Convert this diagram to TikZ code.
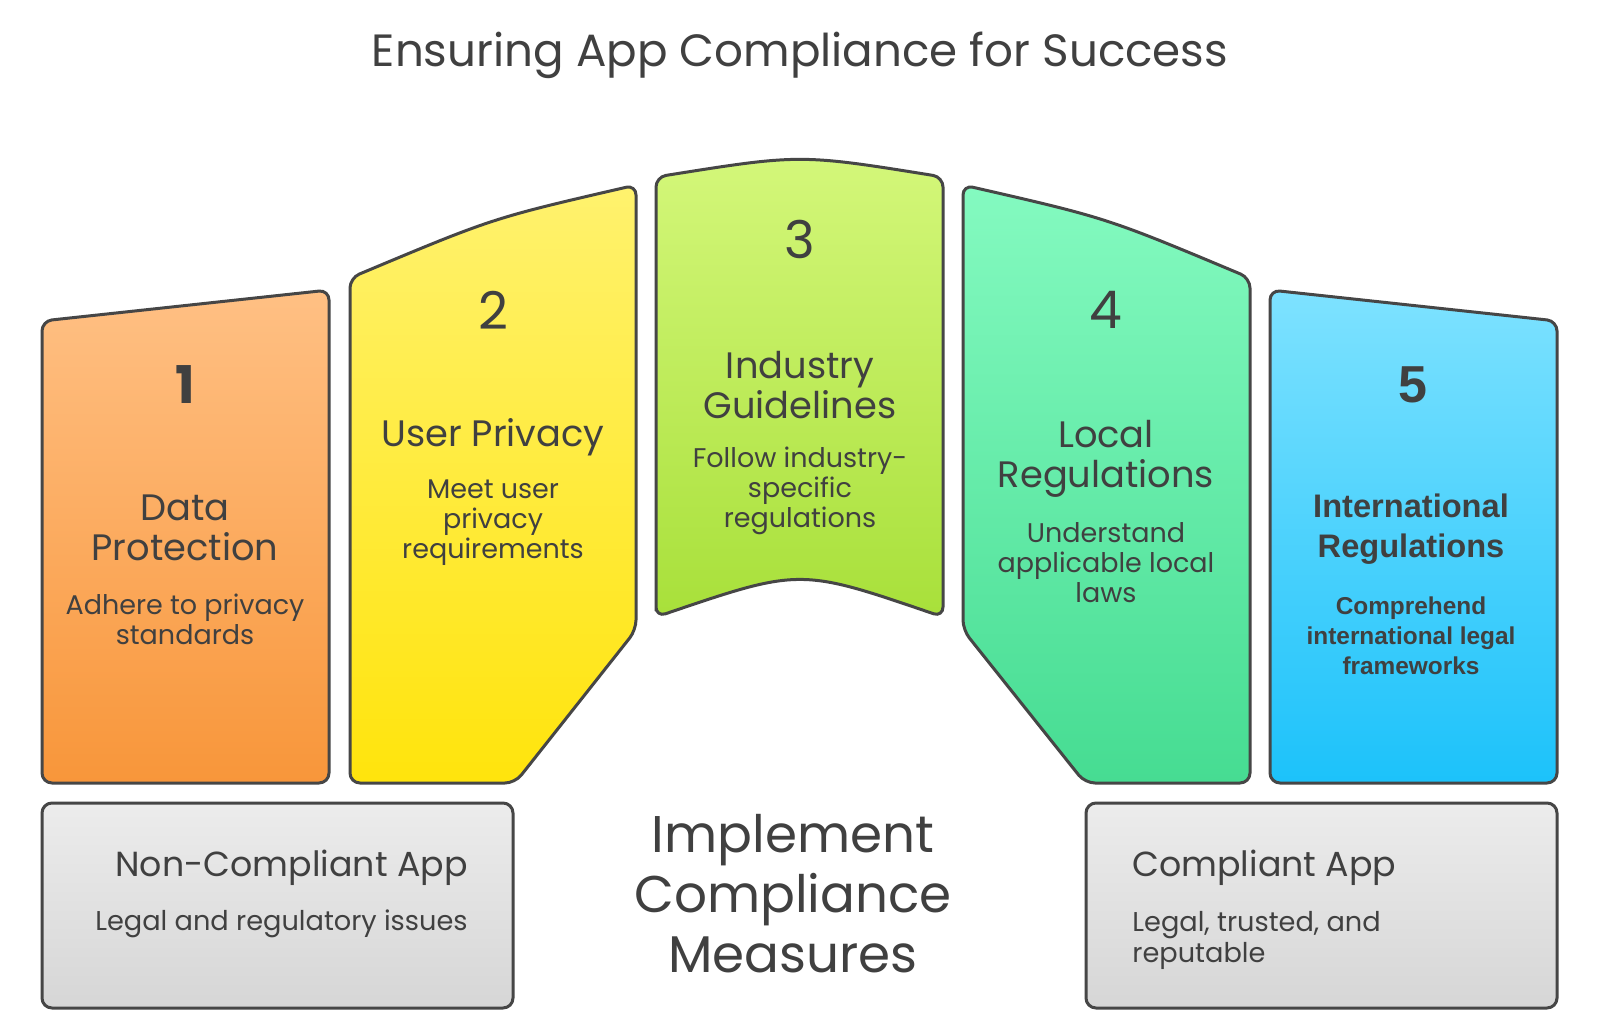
\documentclass[tikz,border=0pt]{standalone}
\usepackage{fontspec}
\setmainfont{Poppins}
\newfontfamily\boldsans{Liberation Sans}
\definecolor{ink}{RGB}{64,64,64}
\definecolor{edge}{RGB}{70,70,70}
\definecolor{orangeA}{RGB}{255,192,132}
\definecolor{orangeB}{RGB}{248,150,58}
\definecolor{yellowA}{RGB}{255,242,110}
\definecolor{yellowB}{RGB}{255,228,12}
\definecolor{limeA}{RGB}{212,247,122}
\definecolor{limeB}{RGB}{168,224,58}
\definecolor{mintA}{RGB}{132,250,192}
\definecolor{mintB}{RGB}{70,220,146}
\definecolor{skyA}{RGB}{126,226,255}
\definecolor{skyB}{RGB}{28,194,250}
\definecolor{greyA}{RGB}{236,236,236}
\definecolor{greyB}{RGB}{214,214,214}
\tikzset{
  panel/.style={draw=edge, line width=1.5pt, rounded corners=5pt},
  num/.style={text=ink, font=\fontsize{26}{30}\selectfont},
  head/.style={text=ink, align=center, font=\fontsize{18.4}{20}\selectfont},
  desc/.style={text=ink, align=center, font=\fontsize{13.5}{15}\selectfont},
}
\begin{document}
\begin{tikzpicture}[x=0.5pt, y=-0.5pt]
  \useasboundingbox[fill=white] (0,0) rectangle (1600,1028);

  % Titulo
  \node[text=ink, font=\fontsize{22.6}{26}\selectfont] (titulo) at (800,55) {Ensuring App Compliance for Success};

  % Paneles
  \path[panel, top color=orangeA, bottom color=orangeB]
    (42,783) -- (42,321) -- (329,290) -- (329,783) -- cycle;
  \path[panel, top color=yellowA, bottom color=yellowB]
    (350,783) -- (350,278) .. controls (493,218) .. (636,185) -- (636,630) -- (515,783) -- cycle;
  \path[panel, top color=limeA, bottom color=limeB]
    (656,617) -- (656,177) .. controls (800,154) .. (943,177) -- (943,617) .. controls (800,568) .. (656,617) -- cycle;
  \path[panel, top color=mintA, bottom color=mintB]
    (1085,783) -- (963,630) -- (963,185) .. controls (1107,218) .. (1250,278) -- (1250,783) -- cycle;
  \path[panel, top color=skyA, bottom color=skyB]
    (1270,783) -- (1270,290) -- (1557,321) -- (1557,783) -- cycle;

  % Cajas inferiores
  \path[panel, top color=greyA, bottom color=greyB] (42,803) rectangle (513,1008);
  \path[panel, top color=greyA, bottom color=greyB] (1086,803) rectangle (1557,1008);

  % Textos de los paneles
  \node[num, font=\fontsize{26}{30}\bfseries] (n1) at (185,385) {1};
  \node[head] (h1) at (185,528) {Data\\Protection};
  \node[desc] (d1) at (185,619) {Adhere to privacy\\standards};

  \node[num] (n2) at (493,310) {2};
  \node[head] (h2) at (493,437) {User Privacy};
  \node[desc] (d2) at (493,523) {Meet user\\privacy\\requirements};

  \node[num] (n3) at (800,239) {3};
  \node[head] (h3) at (800,385) {Industry\\Guidelines};
  \node[desc] (d3) at (800,491) {Follow industry-\\specific\\regulations};

  \node[num] (n4) at (1106,310) {4};
  \node[head] (h4) at (1106,459) {Local\\Regulations};
  \node[desc] (d4) at (1106,563) {Understand\\applicable local\\laws};

  \node[num, font=\boldsans\fontsize{26}{30}\bfseries] (n5) at (1413,385) {5};
  \node[head, font=\boldsans\fontsize{16.3}{20}\bfseries] (h5) at (1411,529) {International\\Regulations};
  \node[desc, font=\boldsans\fontsize{12.2}{15}\bfseries] (d5) at (1411,636) {Comprehend\\international legal\\frameworks};

  % Texto central
  \node[text=ink, align=center, font=\fontsize{25.8}{30}\selectfont] (centro) at (793,894) {Implement\\Compliance\\Measures};

  % Textos de las cajas
  \node[text=ink, anchor=east, inner sep=0pt, font=\fontsize{17.4}{20}\selectfont] (noapp) at (468,868) {Non-Compliant App};
  \node[text=ink, anchor=east, inner sep=0pt, font=\fontsize{13.6}{15}\selectfont] (nodesc) at (468,924) {Legal and regulatory issues};
  \node[text=ink, anchor=west, inner sep=0pt, font=\fontsize{17.4}{20}\selectfont] (siapp) at (1132,868) {Compliant App};
  \node[text=ink, anchor=west, inner sep=0pt, align=left, font=\fontsize{13.6}{15.5}\selectfont] (sidesc) at (1132,940) {Legal, trusted, and\\reputable};

\end{tikzpicture}
\end{document}
